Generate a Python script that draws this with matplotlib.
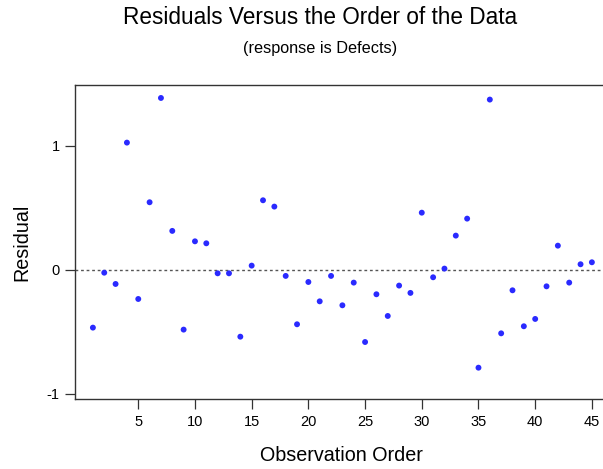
import matplotlib
matplotlib.use("Agg")
import matplotlib.pyplot as plt

observation = list(range(1, 46))
residuals = [-0.465, -0.022, -0.113, 1.027, -0.234, 0.546, 1.387, 0.315, -0.481, 0.231,
             0.215, -0.027, -0.027, -0.538, 0.035, 0.562, 0.511, -0.048, -0.438, -0.097,
             -0.253, -0.048, -0.285, -0.102, -0.581, -0.196, -0.371, -0.126, -0.185, 0.462,
             -0.059, 0.011, 0.277, 0.414, -0.788, 1.374, -0.511, -0.164, -0.454, -0.395,
             -0.132, 0.196, -0.102, 0.046, 0.062]
xticks = [5, 10, 15, 20, 25, 30, 35, 40, 45]
yticks = [-1, 0, 1]

plt.rcParams['font.family'] = ['Liberation Sans', 'DejaVu Sans']
plt.rcParams['axes.unicode_minus'] = False

W, H = 603, 469
fig = plt.figure(figsize=(W / 100, H / 100), dpi=100)
left, right, top, bottom = 74.7, 603.0, 84.7, 399.3
ax = fig.add_axes([left / W, 1 - bottom / H, (right - left) / W, (bottom - top) / H])

ax.scatter(observation, residuals, s=18, color='#2a2aff', edgecolors='none', zorder=3)
ax.axhline(0, color='#555555', linestyle=(0, (2, 2)), linewidth=1.0, zorder=2)

ax.set_xlim(-0.605, 45.98)
ax.set_ylim(-1.043, 1.494)
ax.set_xticks(xticks)
ax.set_yticks(yticks)
ax.tick_params(axis='both', direction='out', length=7.2, width=0.9, color='#333333',
               labelsize=10.5)
ax.tick_params(axis='x', pad=4.3)
ax.tick_params(axis='y', pad=3.6)
for s in ['left', 'bottom', 'top']:
    ax.spines[s].set_color('#333333')
    ax.spines[s].set_linewidth(1.0)
ax.spines['right'].set_visible(False)

fig.text(341 / W, 1 - 455 / H, 'Observation Order', ha='center', va='center', fontsize=14.2)
fig.text(22 / W, 1 - 242 / H, 'Residual', ha='center', va='center', rotation=90, fontsize=14.2)

fig.text(320 / W, 1 - 17 / H, 'Residuals Versus the Order of the Data', ha='center', va='center', fontsize=16.3)
fig.text(320 / W, 1 - 49 / H, '(response is Defects)', ha='center', va='center', fontsize=11.7)

fig.savefig('out.png', dpi=100)
